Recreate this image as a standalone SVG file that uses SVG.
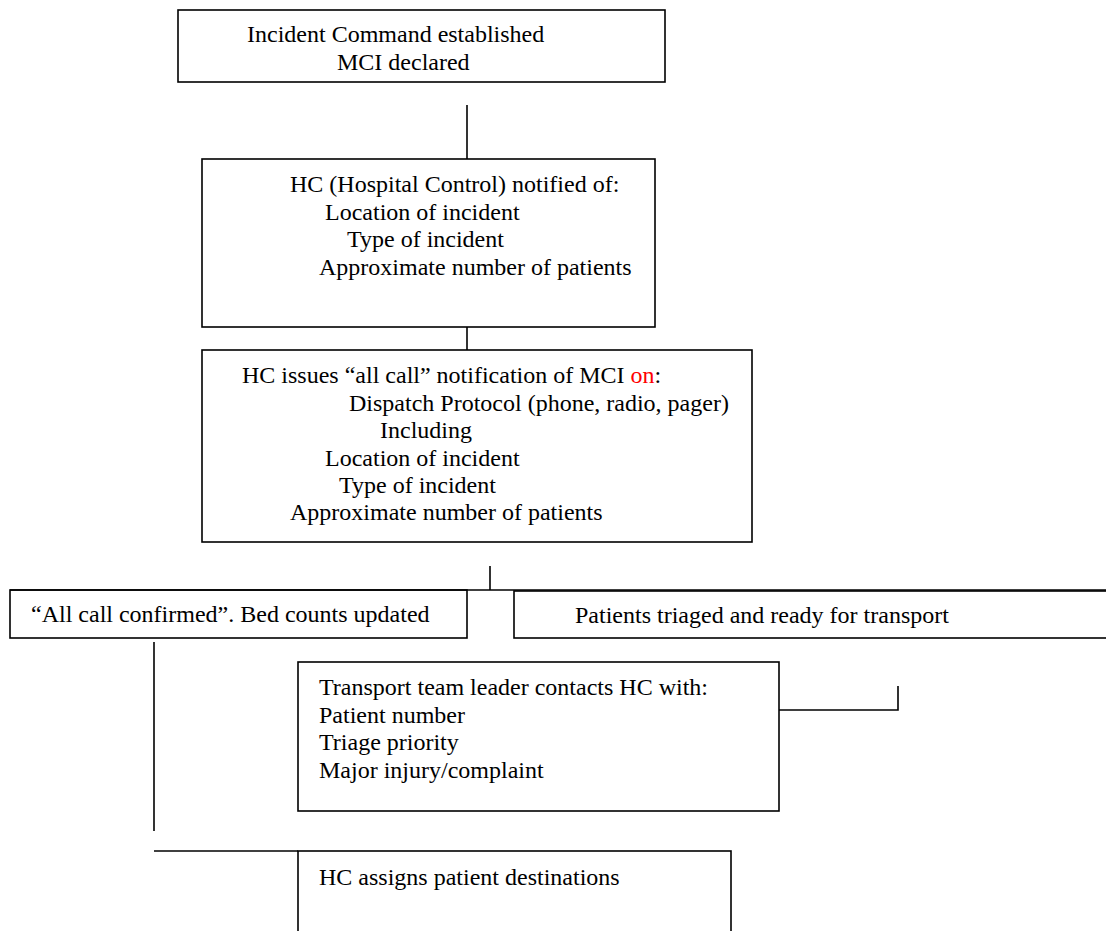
<svg xmlns="http://www.w3.org/2000/svg" width="1106" height="931" viewBox="0 0 1106 931">
<style>
.box{fill:none;stroke:#000;stroke-width:1.6}
.ln{fill:none;stroke:#000;stroke-width:1.6}
text{font-family:"Liberation Serif","Times New Roman",serif;font-size:24px;fill:#000}
.red{fill:#ff0000}
</style>
<rect width="1106" height="931" fill="#fff"/>
<g id="connectors">
<line class="ln" x1="467" y1="105" x2="467" y2="159"/>
<line class="ln" x1="467" y1="327" x2="467" y2="350"/>
<line class="ln" x1="490" y1="566" x2="490" y2="590"/>
<line class="ln" x1="10" y1="590" x2="1110" y2="590"/>
<line class="ln" x1="154" y1="642" x2="154" y2="831"/>
<line class="ln" x1="154" y1="851" x2="298" y2="851"/>
<polyline class="ln" points="779,710 898,710 898,686"/>
</g>
<g id="n1">
<rect class="box" x="178" y="10" width="487" height="72"/>
<text x="247" y="42">Incident Command established</text>
<text x="337" y="70">MCI declared</text>
</g>
<g id="n2">
<rect class="box" x="202" y="159" width="453" height="168"/>
<text x="290" y="192">HC (Hospital Control) notified of:</text>
<text x="325" y="219.5">Location of incident</text>
<text x="347" y="247">Type of incident</text>
<text x="319" y="274.5">Approximate number of patients</text>
</g>
<g id="n3">
<rect class="box" x="202" y="350" width="550" height="192"/>
<text x="242" y="383">HC issues “all call” notification of MCI <tspan class="red">on</tspan>:</text>
<text x="349" y="411">Dispatch Protocol (phone, radio, pager)</text>
<text x="380" y="438">Including</text>
<text x="325" y="466">Location of incident</text>
<text x="339" y="493">Type of incident</text>
<text x="290" y="520">Approximate number of patients</text>
</g>
<g id="n4">
<rect class="box" x="10" y="590" width="457" height="48"/>
<text x="31" y="622">“All call confirmed”. Bed counts updated</text>
</g>
<g id="n5">
<rect class="box" x="514" y="591" width="600" height="47"/>
<text x="575" y="623">Patients triaged and ready for transport</text>
</g>
<g id="n6">
<rect class="box" x="298" y="662" width="481" height="149"/>
<text x="319" y="695">Transport team leader contacts HC with:</text>
<text x="319" y="722.5">Patient number</text>
<text x="319" y="750">Triage priority</text>
<text x="319" y="777.5">Major injury/complaint</text>
</g>
<g id="n7">
<rect class="box" x="298" y="851" width="433" height="100"/>
<text x="319" y="885">HC assigns patient destinations</text>
</g>
</svg>
